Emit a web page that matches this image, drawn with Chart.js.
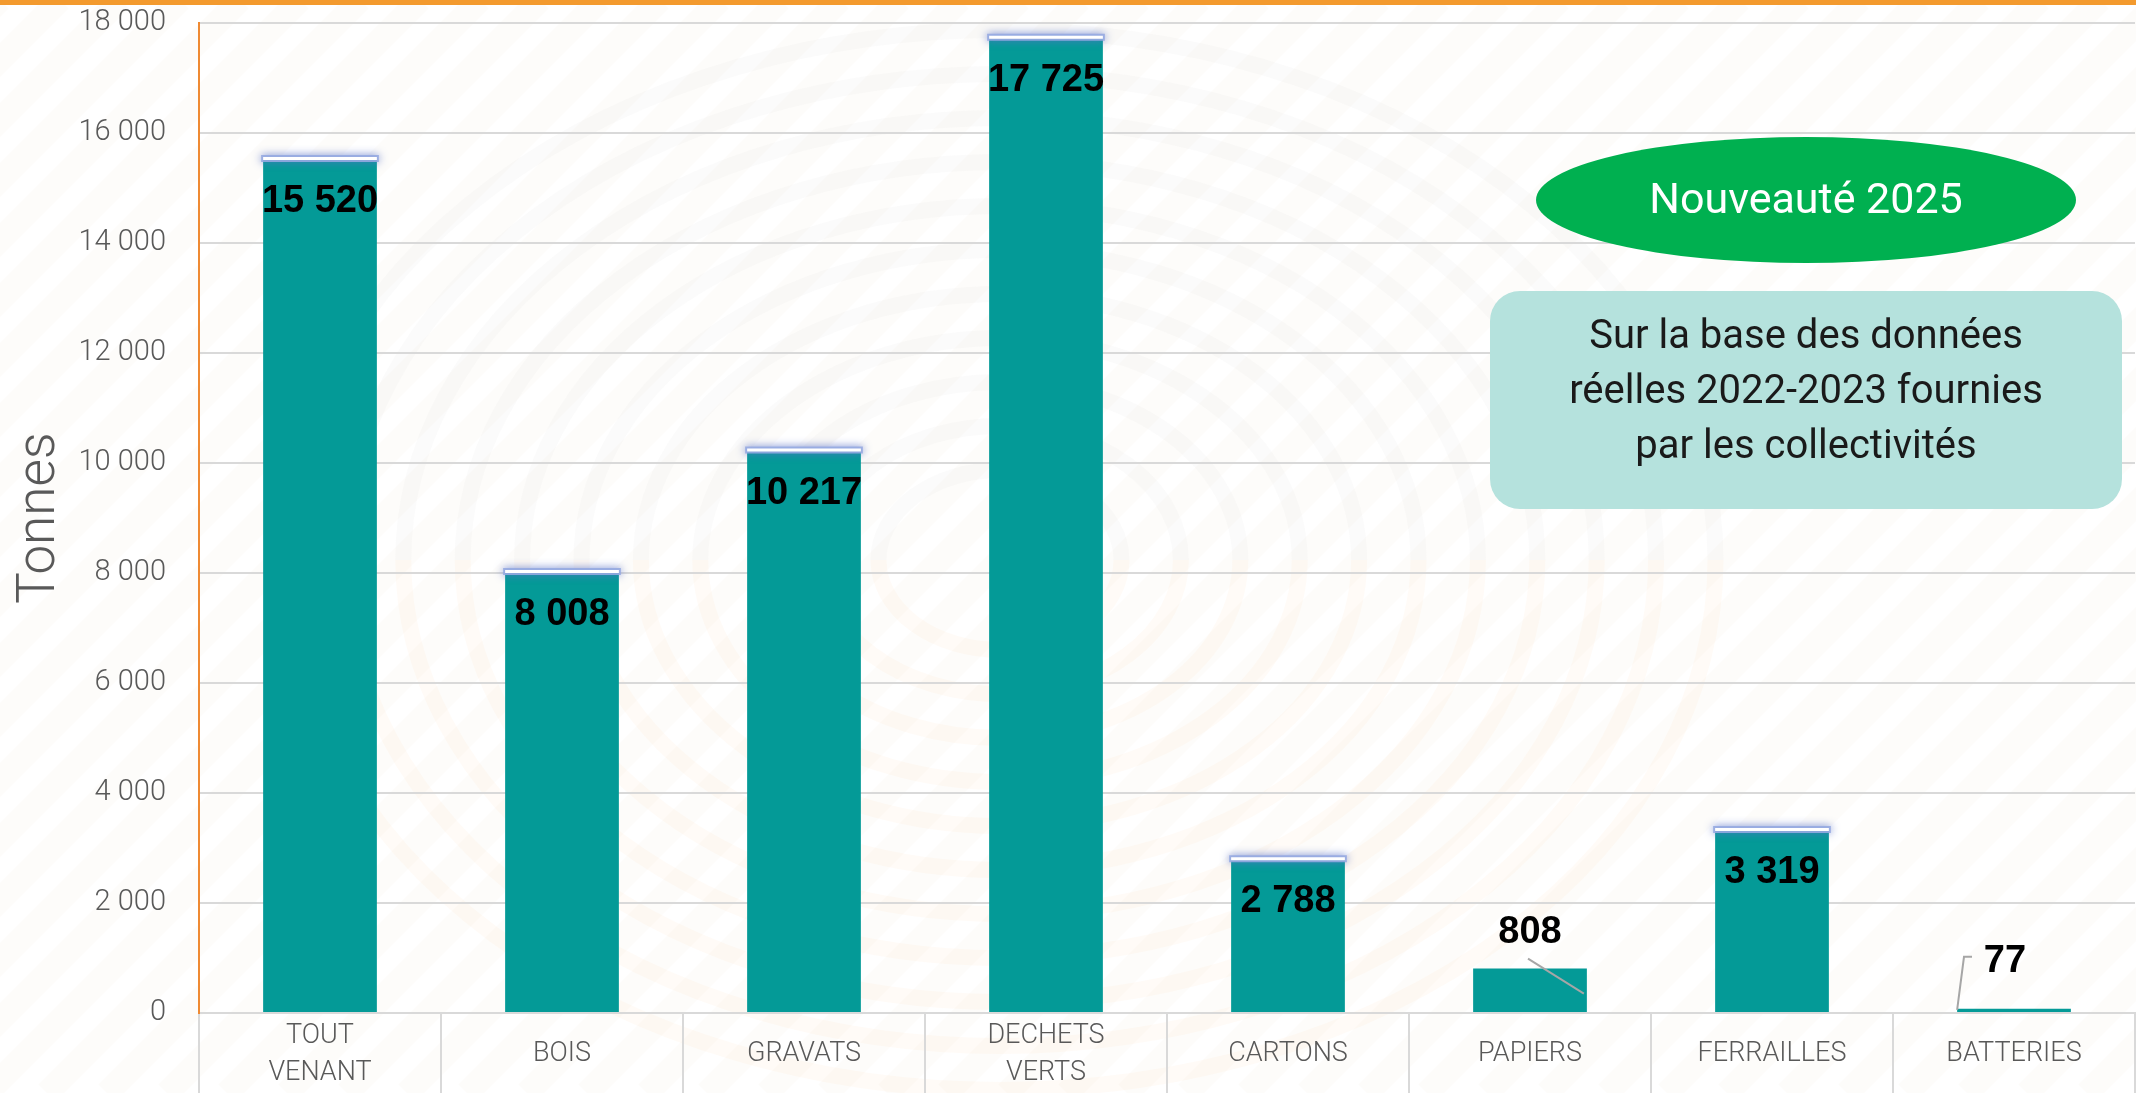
<!DOCTYPE html>
<html>
<head>
<meta charset="utf-8">
<script src="https://cdn.jsdelivr.net/npm/chart.js@4.4.1/dist/chart.umd.min.js"></script>
<style>
html, body { margin: 0; padding: 0; background: #fff; }
#wrap { width: 2136px; height: 1093px; }
</style>
</head>
<body>
<div id="wrap"><canvas id="tonnage" width="2136" height="1093"></canvas></div>
<script>
// tonnages par flux
const categories = [['TOUT', 'VENANT'], 'BOIS', 'GRAVATS', ['DECHETS', 'VERTS'], 'CARTONS', 'PAPIERS', 'FERRAILLES', 'BATTERIES'];
const tonnes = [15520, 8008, 10217, 17725, 2788, 808, 3319, 77];
const yMax = 18000;
const yStep = 2000;
const axisTitle = 'Tonnes';
const badgeText = 'Nouveauté 2025';
const noteLines = ['Sur la base des données', 'réelles 2022-2023 fournies', 'par les collectivités'];

function fmt(v) {
    return String(v).replace(/\B(?=(\d{3})+(?!\d))/g, ' ');
}

// white page, faint stripes + fingerprint arcs, orange band on top
const backdrop = {
    id: 'backdrop',
    beforeDraw(chart) {
        const ctx = chart.ctx, w = chart.width, h = chart.height;
        ctx.save();
        ctx.fillStyle = '#ffffff';
        ctx.fillRect(0, 0, w, h);
        ctx.strokeStyle = 'rgba(235,215,190,0.08)';
        ctx.lineWidth = 24;
        for (let x = -h; x < w + h; x += 60) {
            ctx.beginPath();
            ctx.moveTo(x, h);
            ctx.lineTo(x + h, 0);
            ctx.stroke();
        }
        ctx.lineWidth = 16;
        for (let r = 90; r < 560; r += 44) {
            ctx.strokeStyle = 'rgba(190,190,190,0.06)';
            ctx.beginPath();
            ctx.ellipse(1000, 560, r * 1.35, r, 0, Math.PI, Math.PI * 2);
            ctx.stroke();
            ctx.strokeStyle = 'rgba(250,200,140,0.07)';
            ctx.beginPath();
            ctx.ellipse(1000, 560, r * 1.35, r, 0, 0, Math.PI);
            ctx.stroke();
        }
        ctx.fillStyle = '#f39a2e';
        ctx.fillRect(0, 0, w, 5);
        ctx.restore();
    }
};

// value labels, glow on bar tops, leader lines for the small ones
const barLabels = {
    id: 'barLabels',
    afterDatasetsDraw(chart) {
        const ctx = chart.ctx;
        const bars = chart.getDatasetMeta(0).data;
        ctx.save();
        bars.forEach((bar, i) => {
            const v = tonnes[i];
            const half = bar.width / 2;
            ctx.font = 'bold 38px "Liberation Sans", Arial, sans-serif';
            ctx.fillStyle = '#000000';
            ctx.textAlign = 'center';
            ctx.textBaseline = 'middle';
            if (v > 1500) {
                ctx.save();
                ctx.shadowColor = 'rgba(90,115,200,0.9)';
                ctx.shadowBlur = 8;
                ctx.strokeStyle = 'rgba(150,170,225,0.9)';
                ctx.lineWidth = 7;
                ctx.beginPath();
                ctx.moveTo(bar.x - half - 2, bar.y - 1);
                ctx.lineTo(bar.x + half + 2, bar.y - 1);
                ctx.stroke();
                ctx.shadowBlur = 0;
                ctx.strokeStyle = '#ffffff';
                ctx.lineWidth = 3;
                ctx.beginPath();
                ctx.moveTo(bar.x - half, bar.y - 1);
                ctx.lineTo(bar.x + half, bar.y - 1);
                ctx.stroke();
                ctx.restore();
                ctx.fillText(fmt(v), bar.x, bar.y + 42);
            } else if (v > 200) {
                ctx.fillText(fmt(v), bar.x, bar.y - 36);
                ctx.strokeStyle = '#a6a6a6';
                ctx.lineWidth = 2;
                ctx.beginPath();
                ctx.moveTo(bar.x - 2, bar.y - 10);
                ctx.lineTo(bar.x + half - 3, bar.y + 25);
                ctx.stroke();
            } else {
                ctx.fillText(fmt(v), bar.x - 9, bar.y - 47);
                ctx.strokeStyle = '#a6a6a6';
                ctx.lineWidth = 2;
                ctx.beginPath();
                ctx.moveTo(bar.x - 42, bar.y - 52);
                ctx.lineTo(bar.x - 50, bar.y - 52);
                ctx.lineTo(bar.x - half, bar.y + 1);
                ctx.stroke();
            }
        });
        ctx.restore();
    }
};

// green badge and note box
const notes = {
    id: 'notes',
    afterDraw(chart) {
        const ctx = chart.ctx;
        ctx.save();
        ctx.fillStyle = '#00b050';
        ctx.beginPath();
        ctx.ellipse(1806, 200, 270, 63, 0, 0, Math.PI * 2);
        ctx.fill();
        ctx.fillStyle = '#ffffff';
        ctx.font = '43px Roboto, sans-serif';
        ctx.textAlign = 'center';
        ctx.textBaseline = 'middle';
        ctx.fillText(badgeText, 1806, 202);

        ctx.fillStyle = '#b5e2dd';
        ctx.beginPath();
        ctx.roundRect(1490, 291, 632, 218, 30);
        ctx.fill();
        ctx.fillStyle = '#1a1a1a';
        ctx.font = '40px Roboto, sans-serif';
        noteLines.forEach((t, i) => ctx.fillText(t, 1806, 338 + i * 55));
        ctx.restore();
    }
};

document.addEventListener('DOMContentLoaded', () => {
    const ctx = document.getElementById('tonnage').getContext('2d');
    new Chart(ctx, {
        type: 'bar',
        data: {
            labels: categories,
            datasets: [{ data: tonnes, backgroundColor: '#049a97', categoryPercentage: 1, barPercentage: 0.47 }]
        },
        options: {
            responsive: false,
            animation: false,
            devicePixelRatio: 1,
            layout: { padding: { top: 23, right: 1, left: 0, bottom: 0 } },
            plugins: { legend: { display: false }, tooltip: { enabled: false } },
            scales: {
                x: {
                    grid: { offset: true, drawOnChartArea: false, drawTicks: true, tickLength: 80, color: '#d9d9d9', lineWidth: 2 },
                    border: { color: '#d9d9d9', width: 2 },
                    ticks: {
                        color: '#595959', maxRotation: 0, autoSkip: false, crossAlign: 'center', padding: -57,
                        font: { family: 'Roboto', weight: 300, size: 27, lineHeight: 1.37 }
                    },
                    afterFit(s) { s.height = 80; s.paddingLeft = 0; s.paddingRight = 0; }
                },
                y: {
                    min: 0, max: yMax,
                    ticks: {
                        stepSize: yStep, callback: v => fmt(v), color: '#595959', padding: 33,
                        font: { family: 'Roboto', weight: 300, size: 29 }
                    },
                    grid: { color: '#d9d9d9', lineWidth: 2, drawTicks: false },
                    border: { color: '#ef8a33', width: 2 },
                    title: {
                        display: true, text: axisTitle, color: '#595959', padding: { top: 9, bottom: 0 },
                        font: { family: 'Roboto', weight: 300, size: 53, lineHeight: 1.2 }
                    },
                    afterFit(s) { s.width = 199; s.paddingTop = 0; s.paddingBottom = 0; }
                }
            }
        },
        plugins: [backdrop, barLabels, notes]
    });
});
</script>
</body>
</html>
